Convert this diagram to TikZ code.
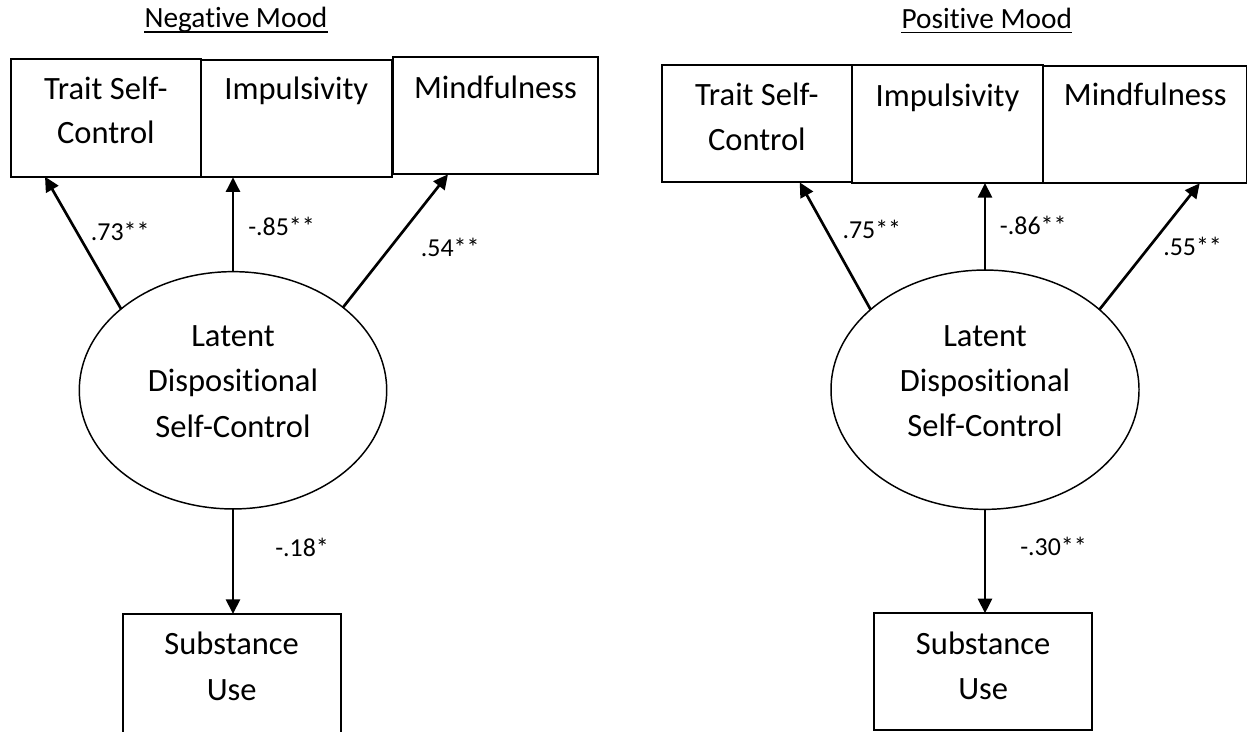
\documentclass[tikz,border=0pt]{standalone}
\usepackage{fontspec}
\setmainfont{Carlito}[Ligatures={NoCommon,NoRequired,NoContextual}]
\usetikzlibrary{shapes.geometric,arrows.meta}
\newlength{\pxu}\setlength{\pxu}{0.75pt}
\begin{document}
\begin{tikzpicture}[x=0.75pt,y=-0.75pt,
  boxnode/.style={draw, line width=1.4pt, inner sep=0pt, outer sep=0pt},
  latent/.style={ellipse, draw, line width=1.1pt, inner sep=0pt, outer sep=0pt},
  txt/.style={font=\fontsize{24.4pt}{28pt}\selectfont, inner sep=0pt, anchor=base},
  coef/.style={font=\fontsize{19.4pt}{23pt}\selectfont, inner sep=0pt, anchor=base west},
  ttl/.style={font=\fontsize{22pt}{26pt}\selectfont, inner sep=0pt, anchor=base},
  arr/.style={line width=2pt, -{Triangle[length=11pt,width=10.5pt]}},
  uline/.style={line width=1.2pt}
]
\useasboundingbox (0,0) rectangle (1248,731);
\clip (0,0) rectangle (1248,731);
\fill[white] (0,0) rectangle (1248,731);

% ---------- Negative Mood ----------
\node[ttl] (ttlL) at (236,28) {Negative Mood};
\draw[uline] ([yshift=-3.2pt]ttlL.base west) -- ([yshift=-3.2pt]ttlL.base east);

\node[boxnode, minimum width=190.3\pxu, minimum height=117.7\pxu] (tscL) at (105.85,117.85) {};
\node[boxnode, minimum width=190.7\pxu, minimum height=117.6\pxu] (impL) at (296.35,118.5) {};
\node[boxnode, minimum width=205\pxu, minimum height=117\pxu] (minL) at (495.5,115.8) {};

\node[txt] (tscLa) at (105.85,100) {Trait Self-};
\node[txt] (tscLb) at (105.85,143.3) {Control};
\node[txt] (impLa) at (296.35,100) {Impulsivity};
\node[txt] (minLa) at (495.5,98.3) {Mindfulness};

\node[latent, minimum width=307.4\pxu, minimum height=237.3\pxu] (ellL) at (233,390.3) {};
\node[txt] (ellLa) at (233,346.7) {Latent};
\node[txt] (ellLb) at (233,391.7) {Dispositional};
\node[txt] (ellLc) at (233,437.3) {Self-Control};

\node[boxnode, minimum width=218\pxu, minimum height=146\pxu] (subL) at (231.7,687) {};
\node[txt] (subLa) at (231.7,654) {Substance};
\node[txt] (subLb) at (231.7,700) {Use};

\draw[arr] (ellL.144) -- ([xshift=34.3\pxu]tscL.south west);
\draw[arr] (ellL.north) -- (ellL.north |- impL.south);
\draw[arr] (ellL.37) -- ([xshift=55\pxu]minL.south west);
\draw[arr] (ellL.south) -- (ellL.south |- subL.north);

\node[coef] (cL1) at (90.7,240) {.73**};
\node[coef] (cL2) at (248,235) {-.85**};
\node[coef] (cL3) at (420.7,256) {.54**};
\node[coef] (cL4) at (275,556) {-.18*};

% ---------- Positive Mood ----------
\node[ttl] (ttlR) at (986.8,28.3) {Positive Mood};
\draw[uline] ([yshift=-3.2pt]ttlR.base west) -- ([yshift=-3.2pt]ttlR.base east);

\node[boxnode, minimum width=190.3\pxu, minimum height=117.3\pxu] (tscR) at (756.85,123.65) {};
\node[boxnode, minimum width=191\pxu, minimum height=118\pxu] (impR) at (947.5,124) {};
\node[boxnode, minimum width=203.5\pxu, minimum height=117.6\pxu] (minR) at (1144.75,124.5) {};

\node[txt] (tscRa) at (756.85,106) {Trait Self-};
\node[txt] (tscRb) at (756.85,150.7) {Control};
\node[txt] (impRa) at (947.5,106.4) {Impulsivity};
\node[txt] (minRa) at (1145.3,106) {Mindfulness};

\node[latent, minimum width=308\pxu, minimum height=239.3\pxu] (ellR) at (985,389.7) {};
\node[txt] (ellRa) at (985,346.7) {Latent};
\node[txt] (ellRb) at (985,391.7) {Dispositional};
\node[txt] (ellRc) at (985,436.7) {Self-Control};

\node[boxnode, minimum width=218.3\pxu, minimum height=116.7\pxu] (subR) at (983.15,671.65) {};
\node[txt] (subRa) at (983.2,654) {Substance};
\node[txt] (subRb) at (983.2,699.3) {Use};

\draw[arr] (ellR.145.4) -- ([xshift=138\pxu]tscR.south west);
\draw[arr] (ellR.north) -- (ellR.north |- impR.south);
\draw[arr] (ellR.35) -- ([xshift=156.7\pxu]minR.south west);
\draw[arr] (ellR.south) -- (ellR.south |- subR.north);

\node[coef] (cR1) at (842.3,238.3) {.75**};
\node[coef] (cR2) at (999.7,234.3) {-.86**};
\node[coef] (cR3) at (1163,255) {.55**};
\node[coef] (cR4) at (1020,555) {-.30**};
\end{tikzpicture}
\end{document}
